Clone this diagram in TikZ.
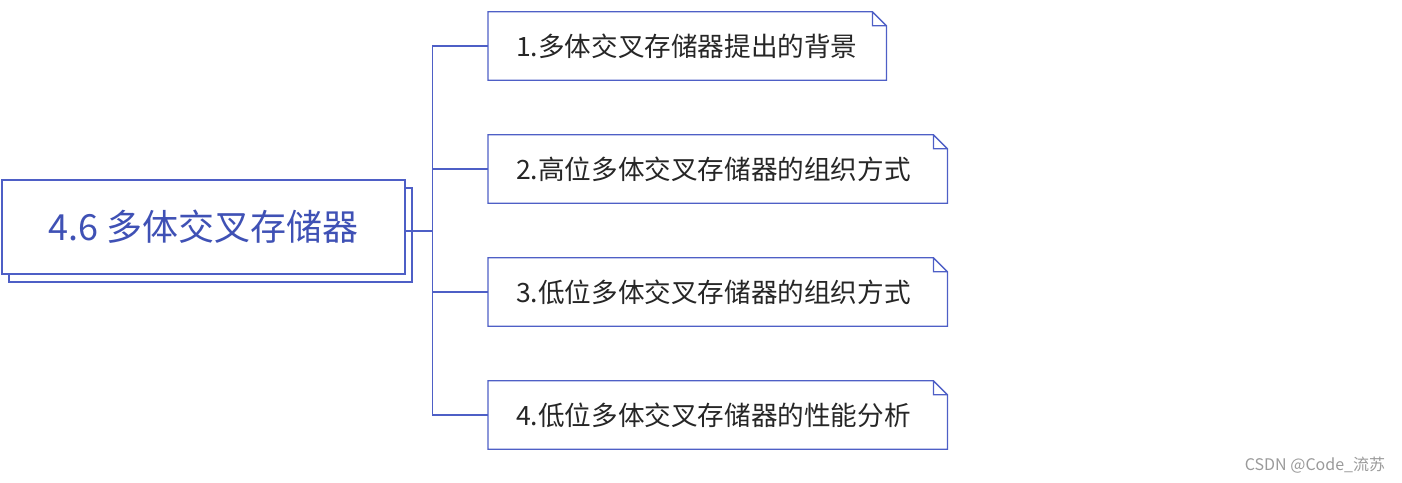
\documentclass[tikz,border=0pt]{standalone}
\usepackage{fontspec}
\setmainfont{Noto Sans CJK SC}
\usetikzlibrary{shadows}
\definecolor{boxblue}{HTML}{4E5FC6}
\definecolor{titleblue}{HTML}{3F51B5}
\definecolor{leafink}{HTML}{262626}
\definecolor{markgray}{HTML}{9A9A9A}

\begin{document}
\begin{tikzpicture}[x=1pt,y=1pt,
  link/.style={boxblue,line width=1.2pt},
  topic/.style={draw=boxblue,line width=1.3pt,fill=white,minimum width=403pt,minimum height=94pt,
    text=titleblue,font=\fontsize{36}{40}\selectfont,
    general shadow={shadow xshift=7pt,shadow yshift=-8pt,draw=boxblue,fill=white,line width=1.3pt}},
  leaf/.style={anchor=west,minimum height=68pt,inner xsep=28pt,text width=#1,align=left,
    text=leafink,font=\fontsize{26.6}{30}\selectfont}]
  \useasboundingbox (0,0) rectangle (1402,482);
  \def\f{14}
  \newcommand{\fold}[1]{\draw[boxblue,line width=1.3pt] (#1.north west) -- ([xshift=-\f pt]#1.north east)
    -- ([yshift=-\f pt]#1.north east) -- (#1.south east) -- (#1.south west) -- cycle
    ([xshift=-\f pt]#1.north east) -- ([xshift=-\f pt,yshift=-\f pt]#1.north east) -- ([yshift=-\f pt]#1.north east);}
  % Central topic with its copy behind it.
  \node[topic] (root) at (203.5,255) {4.6 多体交叉存储器};
  % Subtopics.
  \node[leaf=342pt] (l1) at (488,436) {1.多体交叉存储器提出的背景};
  \node[leaf=403pt] (l2) at (488,313) {2.高位多体交叉存储器的组织方式};
  \node[leaf=403pt] (l3) at (488,190) {3.低位多体交叉存储器的组织方式};
  \node[leaf=403pt] (l4) at (488,67) {4.低位多体交叉存储器的性能分析};
  \foreach \i in {1,...,4} {\fold{l\i}}
  % Branches.
  \coordinate (hub) at ([xshift=27pt,yshift=-4pt]root.east);
  \draw[link] ([yshift=-4pt]root.east) -- (hub);
  \foreach \i in {1,...,4} {\draw[link] (hub) |- (l\i.west);}
  \node[markgray,font=\fontsize{16}{18}\selectfont] (mark) at (1315,17) {CSDN @Code\_流苏};
\end{tikzpicture}
\end{document}
